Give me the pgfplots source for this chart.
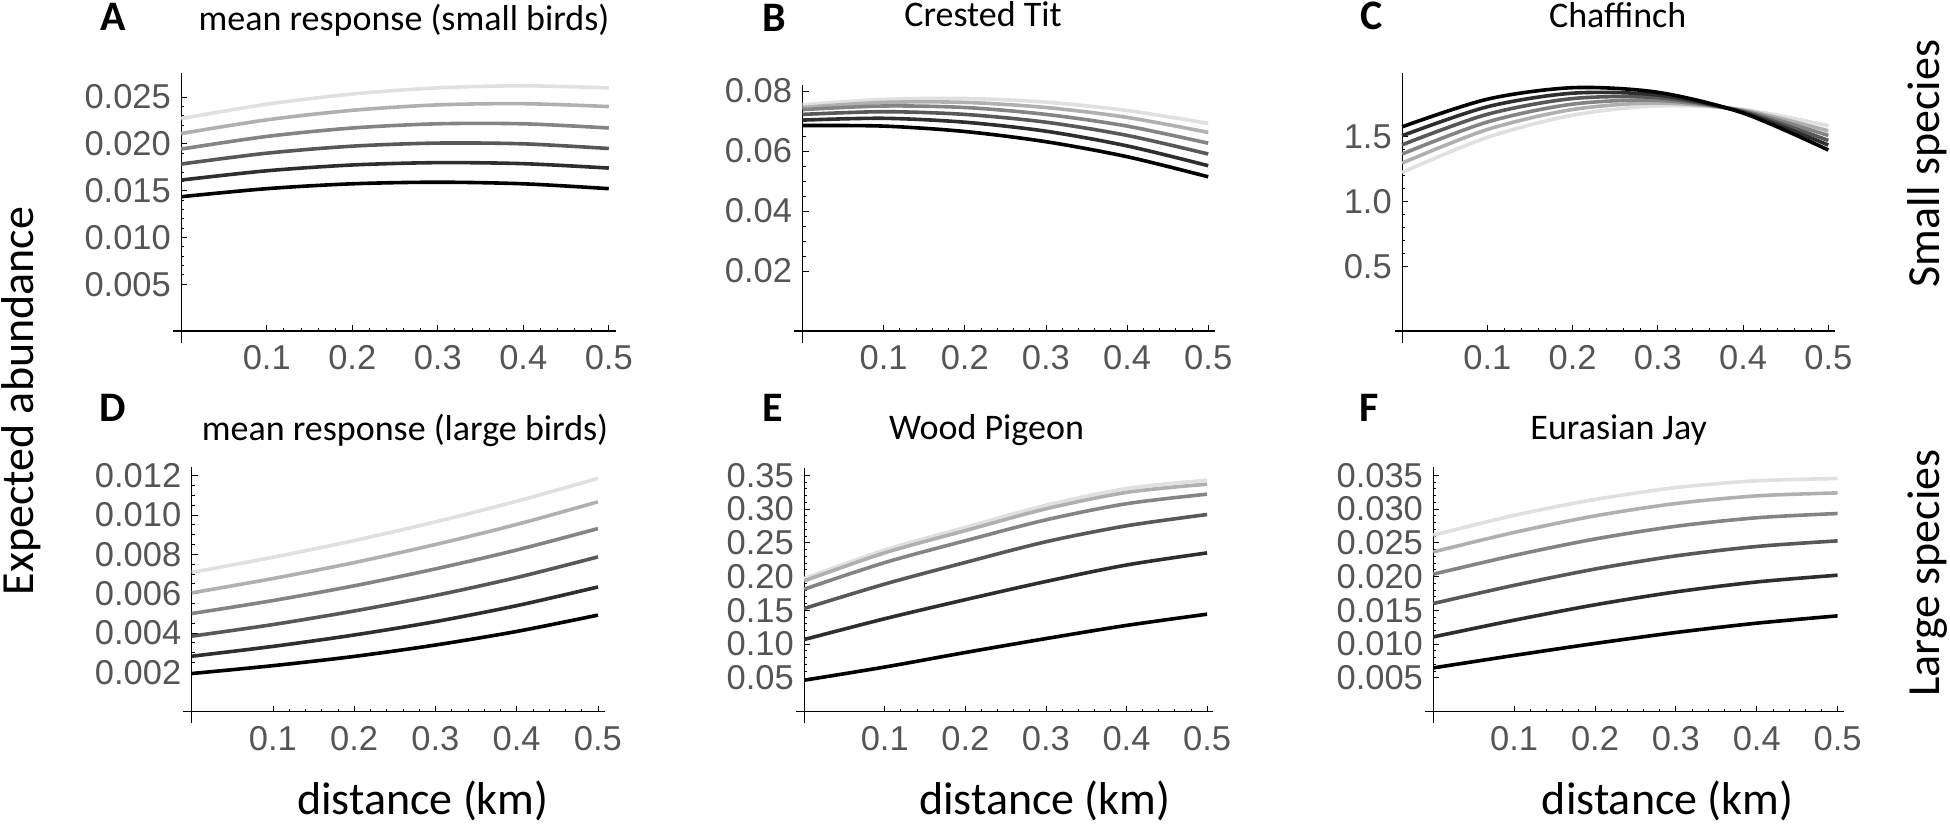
\documentclass[border=0pt]{standalone}
\usepackage{fontspec}
\setmainfont{Carlito}
\newfontfamily\tickfont{Liberation Sans}
\usepackage{pgfplots}
\pgfplotsset{compat=1.18}
\definecolor{c1}{HTML}{E0E0E0}
\definecolor{c2}{HTML}{B0B0B0}
\definecolor{c3}{HTML}{848484}
\definecolor{c4}{HTML}{585858}
\definecolor{c5}{HTML}{2E2E2E}
\definecolor{c6}{HTML}{000000}
\definecolor{tickgray}{HTML}{555555}
\pgfplotsset{panel/.style={
  scale only axis, axis lines=middle,
  axis line style={-, line width=0.6pt, black},
  anchor=south west,
  scaled x ticks=false, scaled y ticks=false,
  xtick={0.1,0.2,0.3,0.4,0.5}, xticklabels={0.1,0.2,0.3,0.4,0.5},
  minor x tick num=4,
  tick align=inside, major tick length=3pt, minor tick length=1.5pt,
  tick style={black, line width=0.4pt},
  ticklabel style={font=\tickfont\fontsize{17.25}{18}\selectfont, text=tickgray, inner sep=0pt},
  xticklabel style={anchor=north, yshift=-7pt},
  yticklabel style={anchor=east, xshift=-5pt},
  every axis plot/.append style={line width=1.8pt, smooth, no marks},
  clip=false,
}}
\begin{document}
\begin{tikzpicture}
\path[use as bounding box] (0,0) rectangle (975pt,414.5pt);
% ---------- A
\begin{axis}[panel, at={(86.5pt,242.85pt)}, width=221.4pt, height=135.3pt,
  xmin=-0.00965, xmax=0.5082, ymin=-0.00131, ymax=0.0276,
  ytick={0.005,0.01,0.015,0.02,0.025}, yticklabels={0.005,0.010,0.015,0.020,0.025},
  minor y tick num=4]
\addplot[c1] coordinates {(0,0.0227)(0.1,0.02423)(0.2,0.02532)(0.3,0.02598)(0.4,0.0262)(0.5,0.02598)};
\addplot[c2] coordinates {(0,0.0211)(0.1,0.02256)(0.2,0.02358)(0.3,0.02416)(0.4,0.02429)(0.5,0.02398)};
\addplot[c3] coordinates {(0,0.01944)(0.1,0.02079)(0.2,0.02169)(0.3,0.02214)(0.4,0.02214)(0.5,0.02169)};
\addplot[c4] coordinates {(0,0.01784)(0.1,0.0190)(0.2,0.01975)(0.3,0.02008)(0.4,0.0200)(0.5,0.0195)};
\addplot[c5] coordinates {(0,0.01613)(0.1,0.01712)(0.2,0.01774)(0.3,0.01799)(0.4,0.01788)(0.5,0.01741)};
\addplot[c6] coordinates {(0,0.01435)(0.1,0.01521)(0.2,0.01573)(0.3,0.0159)(0.4,0.01573)(0.5,0.01521)};
\end{axis}
% ---------- B
\begin{axis}[panel, at={(396.875pt,242.85pt)}, width=210.4pt, height=129.15pt,
  xmin=-0.01078, xmax=0.5078, ymin=-0.0041, ymax=0.082,
  ytick={0.02,0.04,0.06,0.08}, yticklabels={0.02,0.04,0.06,0.08},
  minor y tick num=3]
\addplot[c1] coordinates {(0,0.0754)(0.1,0.0772)(0.2,0.0775)(0.3,0.0763)(0.4,0.0735)(0.5,0.0692)};
\addplot[c2] coordinates {(0,0.0745)(0.1,0.0762)(0.2,0.0762)(0.3,0.0745)(0.4,0.0712)(0.5,0.0662)};
\addplot[c3] coordinates {(0,0.0738)(0.1,0.0750)(0.2,0.0745)(0.3,0.0722)(0.4,0.0683)(0.5,0.0626)};
\addplot[c4] coordinates {(0,0.0722)(0.1,0.0731)(0.2,0.0722)(0.3,0.0696)(0.4,0.0652)(0.5,0.0590)};
\addplot[c5] coordinates {(0,0.0703)(0.1,0.0709)(0.2,0.0696)(0.3,0.0666)(0.4,0.0617)(0.5,0.0551)};
\addplot[c6] coordinates {(0,0.0685)(0.1,0.0683)(0.2,0.0665)(0.3,0.0631)(0.4,0.0581)(0.5,0.0514)};
\end{axis}
% ---------- C
\begin{axis}[panel, at={(697.5pt,242.85pt)}, width=220.2pt, height=135.3pt,
  xmin=-0.00833, xmax=0.5083, ymin=-0.0946, ymax=1.995,
  ytick={0.5,1.0,1.5}, yticklabels={0.5,1.0,1.5},
  minor y tick num=4]
\addplot[c1] coordinates {(0,1.225)(0.1,1.4956)(0.2,1.6669)(0.3,1.7389)(0.4,1.7116)(0.5,1.585)};
\addplot[c2] coordinates {(0,1.297)(0.1,1.5562)(0.2,1.7108)(0.3,1.7606)(0.4,1.7056)(0.5,1.546)};
\addplot[c3] coordinates {(0,1.367)(0.1,1.6143)(0.2,1.7523)(0.3,1.7809)(0.4,1.7001)(0.5,1.510)};
\addplot[c4] coordinates {(0,1.438)(0.1,1.6738)(0.2,1.7951)(0.3,1.8019)(0.4,1.6941)(0.5,1.4717)};
\addplot[c5] coordinates {(0,1.508)(0.1,1.7319)(0.2,1.8367)(0.3,1.8223)(0.4,1.6887)(0.5,1.436)};
\addplot[c6] coordinates {(0,1.577)(0.1,1.7904)(0.2,1.8792)(0.3,1.8434)(0.4,1.683)(0.5,1.398)};
\end{axis}
% ---------- D
\begin{axis}[panel, at={(91.65pt,52.85pt)}, width=210.85pt, height=128.3pt,
  xmin=-0.01034, xmax=0.5087, ymin=-0.00059, ymax=0.012456,
  ytick={0.002,0.004,0.006,0.008,0.010,0.012}, yticklabels={0.002,0.004,0.006,0.008,0.010,0.012},
  minor y tick num=3]
\addplot[c1] coordinates {(0,0.00708)(0.1,0.00785)(0.2,0.0087)(0.3,0.00965)(0.4,0.0107)(0.5,0.01186)};
\addplot[c2] coordinates {(0,0.00604)(0.1,0.00677)(0.2,0.00758)(0.3,0.0085)(0.4,0.00952)(0.5,0.01067)};
\addplot[c3] coordinates {(0,0.00499)(0.1,0.00565)(0.2,0.0064)(0.3,0.00726)(0.4,0.00822)(0.5,0.00931)};
\addplot[c4] coordinates {(0,0.00384)(0.1,0.00443)(0.2,0.00512)(0.3,0.00591)(0.4,0.00682)(0.5,0.00787)};
\addplot[c5] coordinates {(0,0.00282)(0.1,0.00332)(0.2,0.0039)(0.3,0.00458)(0.4,0.00539)(0.5,0.00634)};
\addplot[c6] coordinates {(0,0.00194)(0.1,0.00234)(0.2,0.00281)(0.3,0.00339)(0.4,0.00408)(0.5,0.00491)};
\end{axis}
% ---------- E
\begin{axis}[panel, at={(397.9pt,52.85pt)}, width=208.75pt, height=127.5pt,
  xmin=-0.01042, xmax=0.5077, ymin=-0.01717, ymax=0.3602,
  ytick={0.05,0.10,0.15,0.20,0.25,0.30,0.35}, yticklabels={0.05,0.10,0.15,0.20,0.25,0.30,0.35},
  minor y tick num=4]
\addplot[c1] coordinates {(0,0.1971)(0.1,0.2393)(0.2,0.2728)(0.3,0.3055)(0.4,0.3302)(0.5,0.3426)};
\addplot[c2] coordinates {(0,0.1936)(0.1,0.2351)(0.2,0.2680)(0.3,0.3002)(0.4,0.3245)(0.5,0.3367)};
\addplot[c3] coordinates {(0,0.1813)(0.1,0.2207)(0.2,0.2530)(0.3,0.2839)(0.4,0.3078)(0.5,0.3219)};
\addplot[c4] coordinates {(0,0.1527)(0.1,0.1889)(0.2,0.2209)(0.3,0.2515)(0.4,0.2751)(0.5,0.2918)};
\addplot[c5] coordinates {(0,0.1068)(0.1,0.1376)(0.2,0.1658)(0.3,0.1927)(0.4,0.2171)(0.5,0.2350)};
\addplot[c6] coordinates {(0,0.0466)(0.1,0.0661)(0.2,0.0876)(0.3,0.1082)(0.4,0.1277)(0.5,0.1443)};
\end{axis}
% ---------- F
\begin{axis}[panel, at={(712.5pt,52.85pt)}, width=209.4pt, height=128.3pt,
  xmin=-0.01027, xmax=0.5077, ymin=-0.00172, ymax=0.03626,
  ytick={0.005,0.010,0.015,0.020,0.025,0.030,0.035}, yticklabels={0.005,0.010,0.015,0.020,0.025,0.030,0.035},
  minor y tick num=4]
\addplot[c1] coordinates {(0,0.02612)(0.1,0.02906)(0.2,0.03141)(0.3,0.03317)(0.4,0.03417)(0.5,0.03451)};
\addplot[c2] coordinates {(0,0.02365)(0.1,0.02653)(0.2,0.02898)(0.3,0.03081)(0.4,0.03194)(0.5,0.03238)};
\addplot[c3] coordinates {(0,0.02035)(0.1,0.02313)(0.2,0.02556)(0.3,0.02744)(0.4,0.02870)(0.5,0.02933)};
\addplot[c4] coordinates {(0,0.01601)(0.1,0.01870)(0.2,0.02111)(0.3,0.02306)(0.4,0.02445)(0.5,0.02528)};
\addplot[c5] coordinates {(0,0.01107)(0.1,0.01354)(0.2,0.01582)(0.3,0.01773)(0.4,0.01920)(0.5,0.0202)};
\addplot[c6] coordinates {(0,0.00648)(0.1,0.00833)(0.2,0.01010)(0.3,0.01172)(0.4,0.01310)(0.5,0.01418)};
\end{axis}
% ---------- panel letters
\begin{scope}[every node/.style={anchor=base, inner sep=0pt, font=\bfseries\fontsize{21}{22}\selectfont}]
\node at (56.5pt,399.15pt) {A};
\node at (387pt,398.65pt) {B};
\node at (686pt,399.5pt) {C};
\node at (56.25pt,203.5pt) {D};
\node at (386.5pt,203.5pt) {E};
\node at (684.5pt,203.5pt) {F};
\end{scope}
% ---------- titles
\begin{scope}[every node/.style={anchor=base, inner sep=0pt, font=\fontsize{18}{20}\selectfont}]
\node at (202pt,399.25pt) {mean response (small birds)};
\node at (491.5pt,401pt) {Crested Tit};
\node at (808.85pt,400.85pt) {Chaffinch};
\node at (202.5pt,194.15pt) {mean response (large birds)};
\node at (493.25pt,194.75pt) {Wood Pigeon};
\node at (809.35pt,194.75pt) {Eurasian Jay};
\end{scope}
% ---------- outer labels
\begin{scope}[every node/.style={inner sep=0pt, font=\fontsize{23}{25}\selectfont}]
\node[anchor=base] at (211.45pt,7pt) {distance (km)};
\node[anchor=base] at (522.4pt,7pt) {distance (km)};
\node[anchor=base] at (833.85pt,7pt) {distance (km)};
\node[anchor=base, rotate=90] at (16.65pt,214pt) {Expected abundance};
\node[anchor=base, rotate=90] at (969.5pt,332.75pt) {Small species};
\node[anchor=base, rotate=90] at (969.5pt,128pt) {Large species};
\end{scope}
\end{tikzpicture}
\end{document}
